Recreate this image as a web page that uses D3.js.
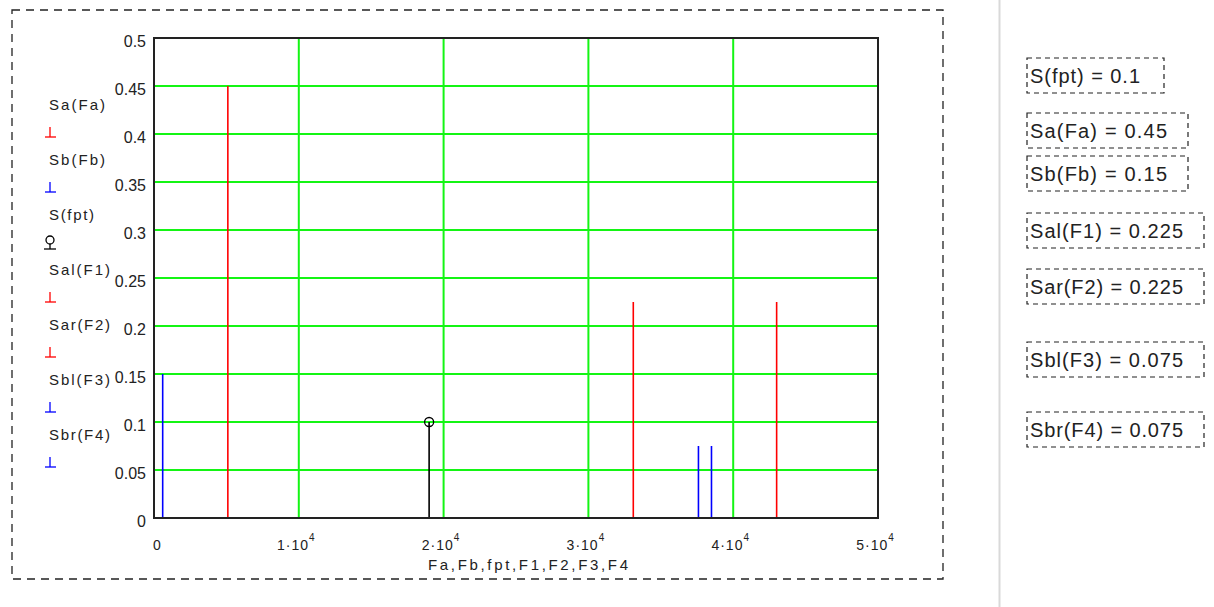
<!DOCTYPE html>
<html>
<head>
<meta charset="utf-8">
<script src="https://cdn.jsdelivr.net/npm/d3@7"></script>
<style>
  body { margin: 0; background: #fff; }
  text { font-family: "Liberation Sans", Arial, sans-serif; fill: #222; }
</style>
</head>
<body>
<div id="chart"></div>
<script>
// Spectrum lines: names, frequencies (Hz) and amplitudes
const names = ["Sa(Fa)", "Sb(Fb)", "S(fpt)", "Sal(F1)", "Sar(F2)", "Sbl(F3)", "Sbr(F4)"];
const freqs = [5100, 600, 19000, 33100, 43000, 37600, 38500];
const amps = [0.45, 0.15, 0.1, 0.225, 0.225, 0.075, 0.075];

// Readouts on the right, in the order they appear
const readNames = ["S(fpt)", "Sa(Fa)", "Sb(Fb)", "Sal(F1)", "Sar(F2)", "Sbl(F3)", "Sbr(F4)"];
const readValues = ["0.1", "0.45", "0.15", "0.225", "0.225", "0.075", "0.075"];

// Axis ticks
const yTicks = [0, 0.05, 0.1, 0.15, 0.2, 0.25, 0.3, 0.35, 0.4, 0.45, 0.5];
const yTickLabels = ["0", "0.05", "0.1", "0.15", "0.2", "0.25", "0.3", "0.35", "0.4", "0.45", "0.5"];
const xTicks = [0, 10000, 20000, 30000, 40000, 50000];
const xTickMant = ["0", "1", "2", "3", "4", "5"];
const xTitle = "Fa,Fb,fpt,F1,F2,F3,F4";

const W = 1214, H = 607;
const plot = {left: 154, right: 878, top: 38, bottom: 518};

const color = d3.scaleOrdinal()
    .domain(names)
    .range(["#ff0000", "#0000ff", "#000000", "#ff0000", "#ff0000", "#0000ff", "#0000ff"]);

const svg = d3.select("#chart").append("svg")
    .attr("width", W).attr("height", H);

svg.append("rect").attr("width", W).attr("height", H).attr("fill", "#fff");

// separator on the right
svg.append("line")
    .attr("x1", 999.5).attr("x2", 999.5).attr("y1", 0).attr("y2", H)
    .attr("stroke", "#d9d9d9").attr("stroke-width", 2);

// outer dashed frame
svg.append("rect")
    .attr("x", 12).attr("y", 10).attr("width", 931).attr("height", 569)
    .attr("fill", "none").attr("stroke", "#222").attr("stroke-width", 1.3)
    .attr("stroke-dasharray", "8,6");

const x = d3.scaleLinear().domain([0, 50000]).range([plot.left, plot.right]);
const y = d3.scaleLinear().domain([0, 0.5]).range([plot.bottom, plot.top]);

// grid
const grid = svg.append("g").attr("stroke", "#14f514").attr("stroke-width", 2);
grid.selectAll(".hg")
    .data(yTicks.filter(t => t > 0 && t < 0.5))
    .join("line")
    .attr("x1", plot.left).attr("x2", plot.right)
    .attr("y1", d => y(d)).attr("y2", d => y(d));
grid.selectAll(".vg")
    .data(xTicks.filter(t => t > 0 && t < 50000))
    .join("line")
    .attr("y1", plot.top).attr("y2", plot.bottom)
    .attr("x1", d => x(d)).attr("x2", d => x(d));

// stems
const stems = names.map((n, i) => ({name: n, f: freqs[i], a: amps[i]}));
svg.append("g").selectAll("line")
    .data(stems)
    .join("line")
    .attr("x1", d => x(d.f)).attr("x2", d => x(d.f))
    .attr("y1", plot.bottom - 1).attr("y2", d => y(d.a))
    .attr("stroke", d => color(d.name))
    .attr("stroke-width", 1.6);

// circle marker on the carrier
svg.append("g").selectAll("circle")
    .data(stems.filter(d => d.name === "S(fpt)"))
    .join("circle")
    .attr("cx", d => x(d.f)).attr("cy", d => y(d.a))
    .attr("r", 4.5)
    .attr("fill", "none").attr("stroke", "#000").attr("stroke-width", 1.3);

// plot frame
svg.append("rect")
    .attr("x", plot.left).attr("y", plot.top)
    .attr("width", plot.right - plot.left).attr("height", plot.bottom - plot.top)
    .attr("fill", "none").attr("stroke", "#222").attr("stroke-width", 2);

// y axis labels
const yAxis = svg.append("g")
    .attr("transform", `translate(${plot.left},0)`)
    .call(d3.axisLeft(y).tickValues(yTicks).tickSize(0).tickPadding(8)
        .tickFormat((d, i) => yTickLabels[i]));
yAxis.select(".domain").remove();
yAxis.selectAll("text")
    .attr("dy", 8)
    .style("font-size", "16px")
    .style("font-family", "'Liberation Sans', Arial, sans-serif")
    .attr("fill", "#222");

// x axis labels (mantissa · 10^4)
const xl = svg.append("g").selectAll("text")
    .data(xTicks)
    .join("text")
    .attr("y", 550)
    .style("font-size", "14px");
xl.each(function(d, i) {
    const t = d3.select(this);
    if (d === 0) {
        t.attr("x", x(d) - 1).attr("text-anchor", "start").text(xTickMant[i]);
    } else {
        t.attr("x", x(d) - 3).attr("text-anchor", "middle");
        t.append("tspan").text(xTickMant[i] + "\u00b7" + "10").attr("letter-spacing", "1px");
        t.append("tspan").text("4").attr("dy", -9).style("font-size", "10px");
    }
});

// x title
svg.append("text")
    .attr("x", 428).attr("y", 570)
    .attr("textLength", 200).attr("lengthAdjust", "spacing")
    .style("font-size", "15px")
    .text(xTitle);

// left legend
const legW = {"Sa(Fa)": 56, "Sb(Fb)": 56, "S(fpt)": 45, "Sal(F1)": 61, "Sar(F2)": 61, "Sbl(F3)": 61, "Sbr(F4)": 61};
const leg = svg.append("g").selectAll("g")
    .data(names)
    .join("g")
    .attr("transform", (d, i) => `translate(0,${110 + i * 55})`);
leg.append("text")
    .attr("x", 49).attr("y", 0)
    .attr("textLength", d => legW[d]).attr("lengthAdjust", "spacing")
    .style("font-size", "15px")
    .text(d => d);
leg.each(function(d) {
    const g = d3.select(this);
    const c = color(d);
    if (d === "S(fpt)") {
        g.append("circle").attr("cx", 50).attr("cy", 20).attr("r", 4)
            .attr("fill", "none").attr("stroke", c).attr("stroke-width", 1.3);
        g.append("line").attr("x1", 50).attr("x2", 50).attr("y1", 24).attr("y2", 29)
            .attr("stroke", c).attr("stroke-width", 1.3);
        g.append("line").attr("x1", 44).attr("x2", 56).attr("y1", 29).attr("y2", 29)
            .attr("stroke", c).attr("stroke-width", 1.3);
    } else {
        g.append("line").attr("x1", 50).attr("x2", 50).attr("y1", 17).attr("y2", 27)
            .attr("stroke", c).attr("stroke-width", 1.3);
        g.append("line").attr("x1", 45).attr("x2", 56).attr("y1", 27).attr("y2", 27)
            .attr("stroke", c).attr("stroke-width", 1.3);
    }
});

// readout boxes on the right
const boxTop = [58, 113, 156, 213, 269, 342, 412];
const boxW = [137, 161, 161, 177, 177, 177, 177];
const textW = [110, 137, 137, 153, 153, 153, 153];
const boxes = svg.append("g").selectAll("g")
    .data(readNames)
    .join("g")
    .attr("transform", (d, i) => `translate(1027,${boxTop[i]})`);
boxes.append("rect")
    .attr("width", (d, i) => boxW[i]).attr("height", 35)
    .attr("fill", "none").attr("stroke", "#222").attr("stroke-width", 1.2)
    .attr("stroke-dasharray", "5,4");
boxes.append("text")
    .attr("x", 3).attr("y", 25)
    .attr("textLength", (d, i) => textW[i]).attr("lengthAdjust", "spacing")
    .style("font-size", "20px")
    .text((d, i) => `${d} = ${readValues[i]}`);
</script>
</body>
</html>
